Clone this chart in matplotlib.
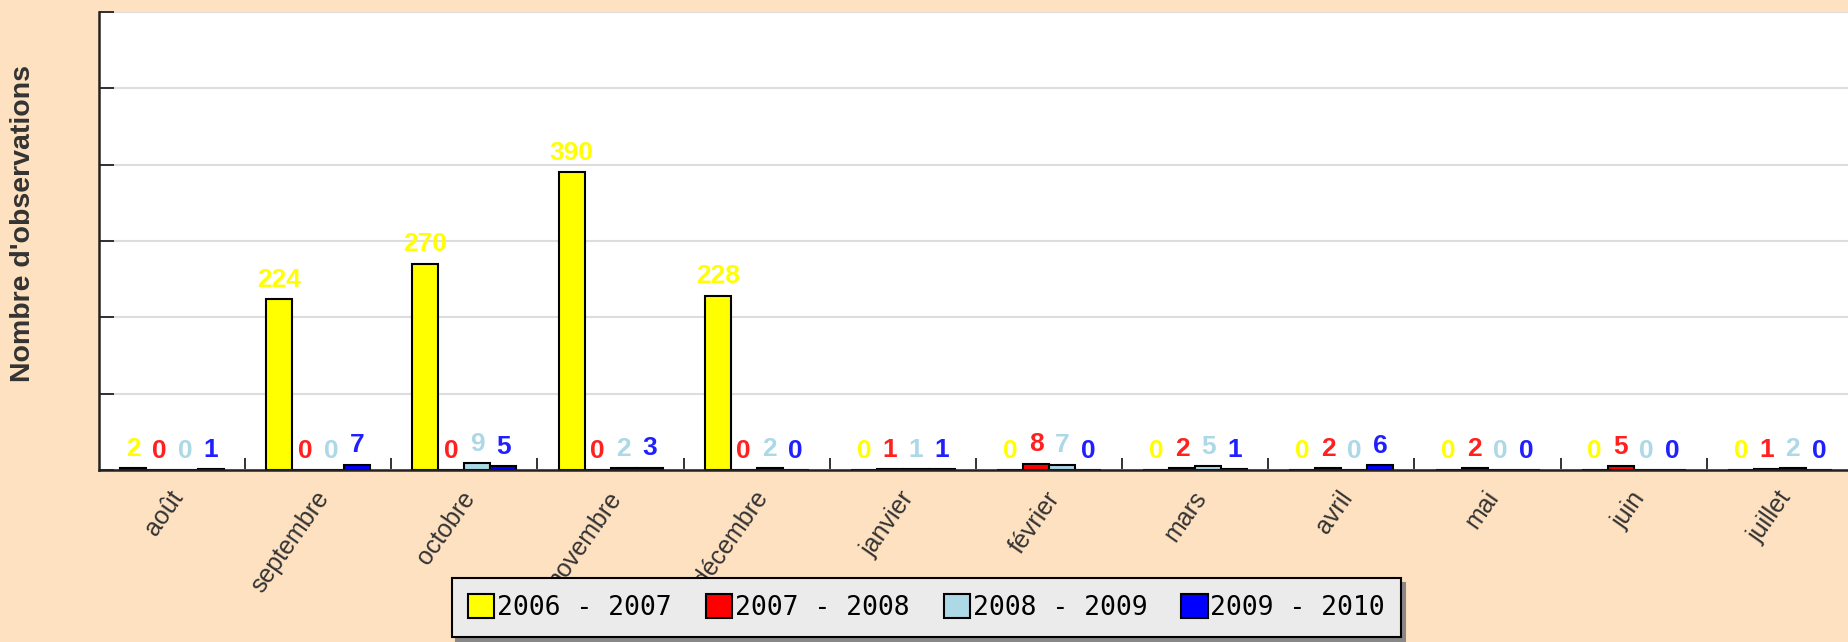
import numpy as np
import matplotlib.pyplot as plt
import matplotlib.transforms as mtransforms
from matplotlib.ticker import FixedLocator

months = ['août', 'septembre', 'octobre', 'novembre', 'décembre', 'janvier',
          'février', 'mars', 'avril', 'mai', 'juin', 'juillet']
s2006 = [2, 224, 270, 390, 228, 0, 0, 0, 0, 0, 0, 0]
s2007 = [0, 0, 0, 0, 0, 1, 8, 2, 2, 2, 5, 1]
s2008 = [0, 0, 9, 2, 2, 1, 7, 5, 0, 0, 0, 2]
s2009 = [1, 7, 5, 3, 0, 1, 0, 1, 6, 0, 0, 0]
season_names = ['2006 - 2007', '2007 - 2008', '2008 - 2009', '2009 - 2010']
colors = ['#FFFF00', '#FF0000', '#ADD8E6', '#0000FF']
label_colors = ['#FFFF00', '#FF2020', '#ADD8E6', '#2020FF']

bg = '#FEE1C0'
fig = plt.figure(figsize=(18.49, 6.42), dpi=100, facecolor=bg)
ax = fig.add_axes([99 / 1849, 1 - 470 / 642, 1754 / 1849, 458 / 642])
ax.set_facecolor('white')

x = np.arange(len(months))
w = 0.178
series = [s2006, s2007, s2008, s2009]
for k, vals in enumerate(series):
    pos = x + (k - 1.5) * w
    ax.bar(pos, vals, width=w, color=colors[k], edgecolor='black',
           linewidth=1.5, label=season_names[k], zorder=3)
    for xi, v in zip(pos, vals):
        ax.annotate(str(v), (xi, v), xytext=(0, 9), textcoords='offset points',
                    ha='center', va='baseline', color=label_colors[k],
                    fontsize=19, fontweight='bold', family='Liberation Sans',
                    zorder=4)

ax.set_xlim(-0.5, len(months) - 0.5)
ax.set_ylim(0, 600)

# month labels centred under groups, tick marks between groups
ax.set_xticks(x)
ax.set_xticklabels(months, rotation=55, rotation_mode='anchor', ha='right',
                   va='center', fontsize=18, family='Liberation Sans',
                   color='#333333')
ax.tick_params(axis='x', which='major', length=0, pad=17)
shift = mtransforms.ScaledTranslation(6 / 100, 0, fig.dpi_scale_trans)
for lab in ax.get_xticklabels():
    lab.set_transform(lab.get_transform() + shift)
ax.xaxis.set_minor_locator(FixedLocator(np.arange(0.5, len(months), 1)))
ax.tick_params(axis='x', which='minor', direction='in', length=9, width=1.3,
               color='#222222')

ax.set_yticks(np.arange(0, 601, 100))
ax.set_yticklabels([])
ax.tick_params(axis='y', direction='in', length=11, width=1.3, color='#222222')
ax.yaxis.grid(True, color='#DDDDDD', linewidth=1.5, zorder=0)
ax.set_axisbelow(True)

for side in ['top', 'right']:
    ax.spines[side].set_visible(False)
for side in ['left', 'bottom']:
    ax.spines[side].set_linewidth(1.8)
    ax.spines[side].set_color('#222222')
    ax.spines[side].set_zorder(5)

fig.text(23 / 1849, 1 - 224 / 642, "Nombre d'observations", rotation=90,
         ha='center', va='center', fontsize=20.5, fontweight='bold',
         family='Liberation Sans', color='#333333')

leg = fig.legend(loc='lower center', bbox_to_anchor=(0.501, 0.008), ncol=4,
                 prop={'family': 'DejaVu Sans Mono', 'size': 19},
                 handlelength=1.0, handleheight=1.0, handletextpad=0.1,
                 columnspacing=1.3, borderpad=0.6, borderaxespad=0,
                 fancybox=False, framealpha=1, facecolor='#EBEBEB',
                 edgecolor='black',
                 shadow={'ox': 3, 'oy': -3, 'color': '#888888', 'alpha': 1})
leg.get_frame().set_linewidth(1.5)
for h in leg.legend_handles:
    h.set_linewidth(1.5)

fig.savefig('out.png', dpi=100, facecolor=bg)
